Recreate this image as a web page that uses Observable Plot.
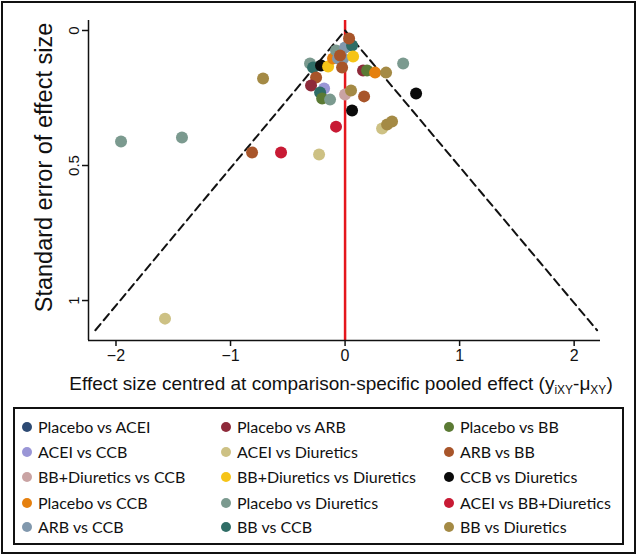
<!DOCTYPE html>
<html>
<head>
<meta charset="utf-8">
<script src="https://cdn.jsdelivr.net/npm/d3@7"></script>
<script src="https://cdn.jsdelivr.net/npm/@observablehq/plot@0.6"></script>
<style>
  html, body { margin: 0; padding: 0; background: #fff; }
  #page { position: relative; width: 637px; height: 555px; overflow: hidden; }
  #outer { position: absolute; left: 1px; top: 1px; width: 631px; height: 549px; border: 2px solid #111; }
  #chart { position: absolute; left: 0; top: 0; }
  #legend { position: absolute; left: 13px; top: 407px; width: 611px; height: 138px; border: 2px solid #111; box-sizing: border-box;
            font-family: Lato, "Open Sans", sans-serif; font-size: 16px; color: #111; }
  .item { position: absolute; display: flex; align-items: center; white-space: nowrap; }
  .sw { width: 10px; height: 10px; border-radius: 50%; margin-right: 6px; }
</style>
</head>
<body>
<div id="page">
  <div id="outer"></div>
  <div id="chart"></div>
  <div id="legend"></div>
</div>
<script>
// ---- data ----
const seriesNames = [
  "Placebo vs ACEI", "Placebo vs ARB", "Placebo vs BB",
  "ACEI vs CCB", "ACEI vs Diuretics", "ARB vs BB",
  "BB+Diuretics vs CCB", "BB+Diuretics vs Diuretics", "CCB vs Diuretics",
  "Placebo vs CCB", "Placebo vs Diuretics", "ACEI vs BB+Diuretics",
  "ARB vs CCB", "BB vs CCB", "BB vs Diuretics"
];
const seriesColors = [
  "#2d4a73", "#8e2a3a", "#5b7a34",
  "#9a96d6", "#cdc184", "#a8552a",
  "#c9a3a3", "#f6c417", "#0a0a0a",
  "#e5800f", "#7b9a8f", "#c81a34",
  "#8198ad", "#2f6d66", "#a48a45"
];
// study points: centred effect size, standard error, comparison
const pointEffect = [
  -0.716, -0.306, -0.279, -0.21, -0.148, -0.105, -0.079, -0.061, -0.017, 0.0,
  0.061, 0.035, 0.07, -0.026, -0.044, 0.157, 0.192, 0.262, 0.358, 0.507,
  -0.253, -0.297, -0.183, -0.218, -0.2, -0.131, 0.0, 0.052, 0.166, 0.62,
  0.061, -0.079, 0.323, 0.367, 0.41, -1.956, -1.424, -0.812, -0.559, -0.227,
  -1.572
];
const pointSE = [
  0.178, 0.122, 0.137, 0.13, 0.133, 0.104, 0.074, 0.104, 0.104, 0.063,
  0.056, 0.03, 0.096, 0.137, 0.093, 0.148, 0.148, 0.156, 0.156, 0.122,
  0.174, 0.204, 0.215, 0.23, 0.252, 0.256, 0.237, 0.222, 0.244, 0.233,
  0.296, 0.356, 0.363, 0.348, 0.337, 0.411, 0.396, 0.452, 0.452, 0.459,
  1.067
];
const pointSeries = [
  "BB vs Diuretics", "Placebo vs Diuretics", "BB vs CCB", "CCB vs Diuretics", "BB+Diuretics vs Diuretics",
  "Placebo vs CCB", "Placebo vs Diuretics", "ARB vs CCB", "ARB vs CCB", "ARB vs CCB",
  "BB vs CCB", "ARB vs BB", "BB+Diuretics vs Diuretics", "ARB vs BB", "ARB vs BB",
  "Placebo vs ARB", "Placebo vs BB", "Placebo vs CCB", "BB vs Diuretics", "Placebo vs Diuretics",
  "ARB vs BB", "Placebo vs ARB", "ACEI vs CCB", "BB vs CCB", "Placebo vs BB",
  "Placebo vs Diuretics", "BB+Diuretics vs CCB", "BB vs Diuretics", "ARB vs BB", "CCB vs Diuretics",
  "CCB vs Diuretics", "ACEI vs BB+Diuretics", "ACEI vs Diuretics", "BB vs Diuretics", "BB vs Diuretics",
  "Placebo vs Diuretics", "Placebo vs Diuretics", "ARB vs BB", "ACEI vs BB+Diuretics", "ACEI vs Diuretics",
  "ACEI vs Diuretics"
];
// funnel (pseudo 95% limits) vertices
const funnelX = [-2.18, 0, 2.2];
const funnelY = [1.11, 0, 1.11];
const xTicks = [-2, -1, 0, 1, 2];
const xTickLabels = ["\u22122", "\u22121", "0", "1", "2"];
const yTicks = [0, 0.5, 1];
const yTickLabels = ["0", "0.5", "1"];
const xDomain = [-2.24, 2.23];
const yDomain = [-0.037, 1.148];

const points = pointEffect.map((x, i) => ({x, y: pointSE[i], s: pointSeries[i]}));
const funnel = funnelX.map((x, i) => ({x, y: funnelY[i]}));
const FONT = "Arial, 'Liberation Sans', Helvetica, sans-serif";

const chart = Plot.plot({
  width: 637, height: 400,
  marginLeft: 88, marginRight: 37, marginTop: 20, marginBottom: 60,
  style: {fontFamily: FONT, background: "transparent", color: "#111"},
  x: {domain: xDomain},
  y: {domain: yDomain, reverse: true},
  color: {domain: seriesNames, range: seriesColors},
  marks: [
    Plot.ruleX([0], {stroke: "#e5161d", strokeWidth: 2.5}),
    Plot.line(funnel, {x: "x", y: "y", stroke: "#111", strokeWidth: 2, strokeDasharray: "8,5"}),
    Plot.dot(points, {x: "x", y: "y", fill: "s", r: 6}),
    Plot.axisX({ticks: xTicks, tickFormat: d => xTickLabels[xTicks.indexOf(d)], tickSize: 6, tickPadding: 3, fontSize: 16, label: null, strokeWidth: 1.5}),
    Plot.axisY({ticks: yTicks, tickFormat: d => yTickLabels[yTicks.indexOf(d)], tickRotate: -90, tickSize: 6, tickPadding: 4, fontSize: 15, label: null, strokeWidth: 1.5}),
    Plot.ruleX([xDomain[0]], {stroke: "#111", strokeWidth: 1.5}),
    Plot.ruleY([yDomain[1]], {stroke: "#111", strokeWidth: 1.5}),
    Plot.text(["Standard error of effect size"], {text: d => d, frameAnchor: "left", dx: -44, dy: -13, rotate: -90, fontSize: 23.5, textAnchor: "middle", fill: "#111"})
  ]
});
document.getElementById("chart").appendChild(chart);

// x-axis title with subscripts
const svg = d3.select(chart);
const t = svg.append("text")
  .attr("x", 341).attr("y", 390)
  .attr("text-anchor", "middle")
  .attr("font-size", 19)
  .attr("font-family", FONT)
  .attr("fill", "#111");
t.append("tspan").text("Effect size centred at comparison-specific pooled effect (y");
t.append("tspan").attr("font-size", 12).attr("dy", 4).text("iXY");
t.append("tspan").attr("dy", -4).text("-\u03BC");
t.append("tspan").attr("font-size", 12).attr("dy", 4).text("XY");
t.append("tspan").attr("dy", -4).text(")");

// legend
const legend = document.getElementById("legend");
const colX = [7, 206, 429];
const rowY = [8, 33, 58, 84, 108];
seriesNames.forEach((name, i) => {
  const el = document.createElement("div");
  el.className = "item";
  el.style.left = colX[i % 3] + "px";
  el.style.top = rowY[Math.floor(i / 3)] + "px";
  el.innerHTML = `<span class="sw" style="background:${seriesColors[i]}"></span><span>${name}</span>`;
  legend.appendChild(el);
});
</script>
</body>
</html>
